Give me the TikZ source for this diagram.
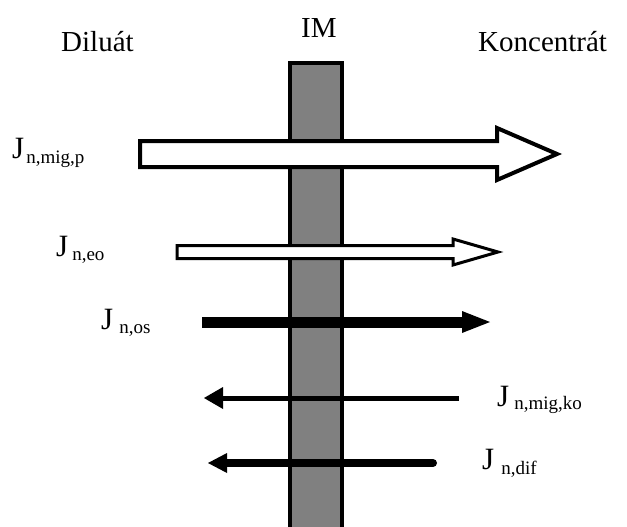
\documentclass[tikz,border=0pt]{standalone}
\usepackage{fontspec}
\setmainfont{Liberation Serif}
\tikzset{
  title/.style={anchor=base west, inner sep=0pt, font=\fontsize{29}{32}\selectfont},
  flux/.style={anchor=base west, inner sep=0pt, font=\fontsize{31}{34}\selectfont},
  hollow/.style={draw=black, fill=white, line join=miter},
}
% flux symbol: J followed by a lowered subscript in text type
\newcommand{\fluxsym}[3]{J\hspace{#1}\raisebox{-#2}{\fontsize{19}{20}\selectfont #3}}
\begin{document}
\begin{tikzpicture}[x=1pt, y=-1pt]
  \useasboundingbox (0,0) rectangle (627,527);
  \fill[white] (0,0) rectangle (627,527);

  % ion-exchange membrane
  \begin{scope}
    \clip (0,0) rectangle (627,527);
    \draw[line width=4pt, fill={rgb,255:red,128;green,128;blue,128}] (290,63) rectangle (342,540);
  \end{scope}

  % headings
  \node[title] (dil) at (61,52) {Diluát};
  \node[title] (im) at (301,38) {IM};
  \node[title] (kon) at (478,52) {Koncentrát};

  % migration flux (hollow, large)
  \coordinate (migpE) at (557,154);
  \draw[hollow, line width=4pt]
    (140,141) -- (497,141) -- (497,128) -- (migpE) -- (497,180) -- (497,167) -- (140,167) -- cycle;

  % electro-osmotic flux (hollow, small)
  \coordinate (eoE) at (498,252);
  \draw[hollow, line width=3pt]
    (177,245.5) -- (453,245.5) -- (453,239) -- (eoE) -- (453,265) -- (453,258.5) -- (177,258.5) -- cycle;

  % osmotic flux
  \coordinate (osS) at (202,322);
  \coordinate (osE) at (490,322);
  \draw[line width=11pt] (osS) -- (466,322);
  \fill (462,311) -- (osE) -- (462,333) -- cycle;

  % back-migration of co-ions
  \coordinate (koS) at (459,398);
  \coordinate (koE) at (204,398);
  \draw[line width=5pt] (koS) -- (220,398);
  \fill (223,387) -- (koE) -- (223,409) -- cycle;

  % diffusion
  \coordinate (difS) at (433,463);
  \coordinate (difE) at (208,463);
  \draw[line width=8pt, line cap=round] (difS) -- (224,463);
  \fill (227,453) -- (difE) -- (227,473) -- cycle;

  % flux labels
  \node[flux] (lmigp) at (12,158) {\fluxsym{2pt}{5pt}{n,mig,p}};
  \node[flux] (leo)   at (56,256) {\fluxsym{4pt}{4pt}{n,eo}};
  \node[flux] (los)   at (101,329) {\fluxsym{6pt}{4pt}{n,os}};
  \node[flux] (lko)   at (497,406) {\fluxsym{5pt}{3pt}{n,mig,ko}};
  \node[flux] (ldif)  at (482,469) {\fluxsym{7pt}{5pt}{n,dif}};
\end{tikzpicture}
\end{document}
